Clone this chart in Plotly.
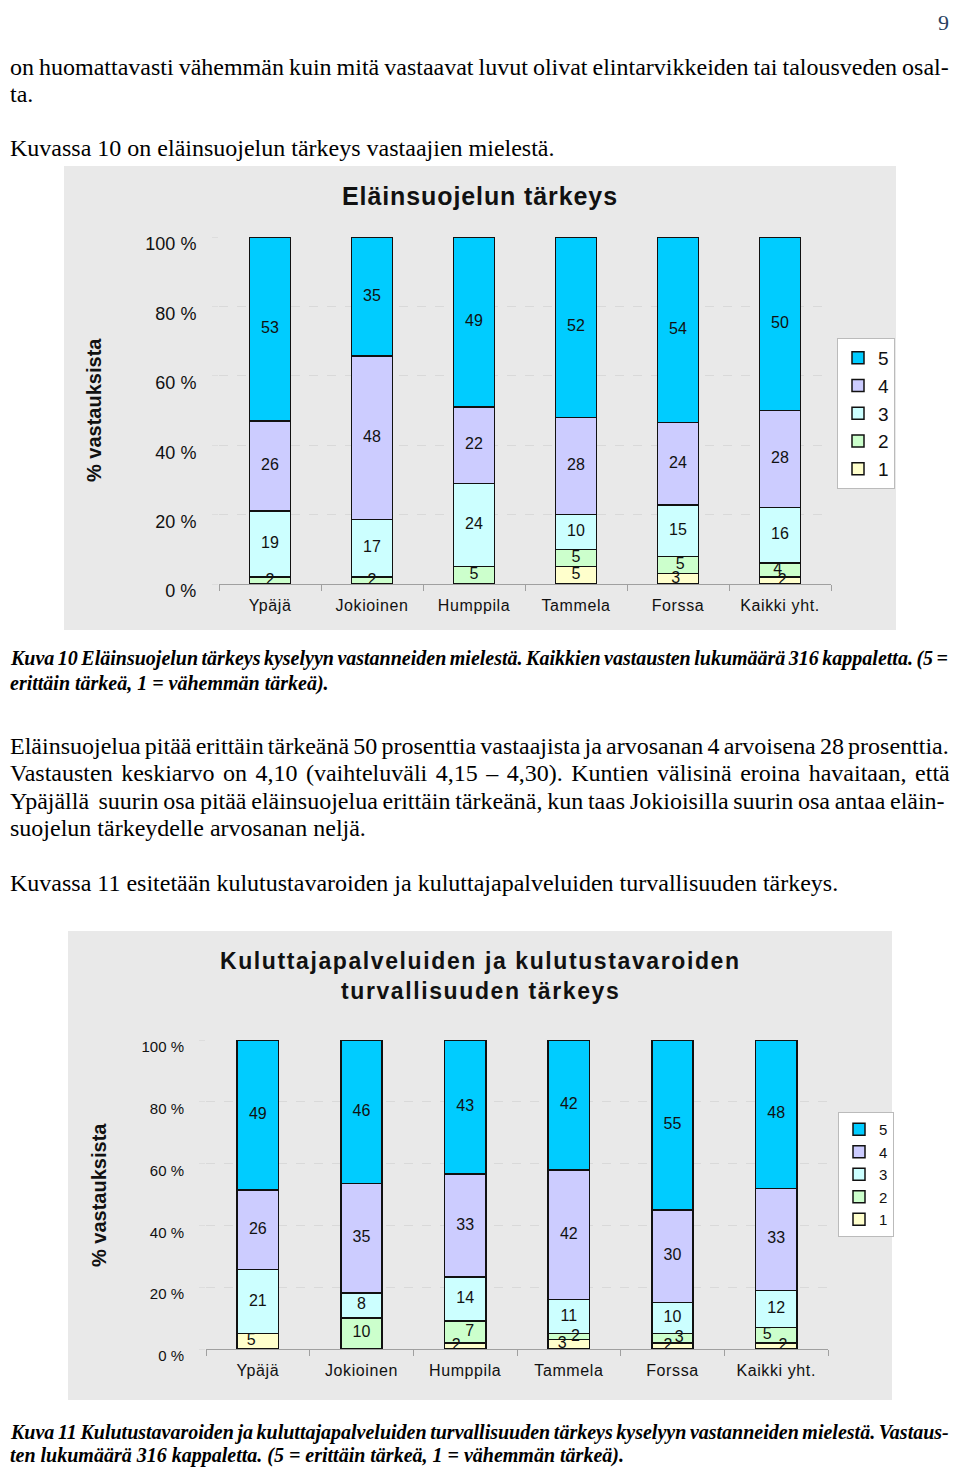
import plotly.graph_objects as go

W, H = 960, 1467

categories = ["Ypäjä", "Jokioinen", "Humppila", "Tammela", "Forssa", "Kaikki yht."]
grades = ["1", "2", "3", "4", "5"]

# Kuva 10: Eläinsuojelun tärkeys, % per grade (1 = vähemmän tärkeä ... 5 = erittäin tärkeä)
elain_1 = [0, 0, 0, 5, 3, 2]
elain_2 = [2, 2, 5, 5, 5, 4]
elain_3 = [19, 17, 24, 10, 15, 16]
elain_4 = [26, 48, 22, 28, 24, 28]
elain_5 = [53, 35, 49, 52, 54, 50]

# Kuva 11: Kuluttajapalveluiden ja kulutustavaroiden turvallisuuden tärkeys
kulu_1 = [5, 0, 2, 3, 2, 2]
kulu_2 = [0, 10, 7, 2, 3, 5]
kulu_3 = [21, 8, 14, 11, 10, 12]
kulu_4 = [26, 35, 33, 42, 30, 33]
kulu_5 = [49, 46, 43, 42, 55, 48]

y_ticks = [0, 20, 40, 60, 80, 100]
y_ticktext = [f"{v} %" for v in y_ticks]

grade_colors = ["#FFFFCC", "#CCFFCC", "#CCFFFF", "#CCCCFF", "#00CCFF"]

# small labels that sit side by side in the original (nbsp padding, - = left)
shift_elain = {("Forssa", "1"): -1, ("Forssa", "2"): 1,
               ("Kaikki yht.", "2"): -1, ("Kaikki yht.", "1"): 1}
shift_kulu = {("Ypäjä", "1"): -3, ("Humppila", "1"): -4, ("Humppila", "2"): 2,
              ("Tammela", "1"): -3, ("Tammela", "2"): 3, ("Forssa", "1"): -2,
              ("Forssa", "2"): 3, ("Kaikki yht.", "2"): -4, ("Kaikki yht.", "1"): 3}

SANS = "Liberation Sans, Arial, sans-serif"
SERIF = "Liberation Serif, Times New Roman, serif"
NB = "\u00a0"
OFF = 8  # page body margin


def px(x):
    return (x - OFF) / W


def py(y):
    return 1 - (y - OFF) / H


def label(v, n):
    s = str(v)
    return s + NB * (-n) if n < 0 else NB * n + s


def spaced(s, ls=0, ws=0):
    return f'<span style="letter-spacing:{ls}px; word-spacing:{ws}px">{s}</span>'


fig = go.Figure()

for series, shifts, xa, ya, leg in [
    ([elain_1, elain_2, elain_3, elain_4, elain_5], shift_elain, "x", "y", "legend"),
    ([kulu_1, kulu_2, kulu_3, kulu_4, kulu_5], shift_kulu, "x2", "y2", "legend2"),
]:
    for g, vals, col in zip(grades, series, grade_colors):
        fig.add_trace(go.Bar(
            x=categories, y=vals, name=g,
            xaxis=xa, yaxis=ya, legend=leg,
            width=0.4,
            marker=dict(color=col, line=dict(color="#111111", width=1.5)),
            hoverinfo="skip",
        ))
    # value labels on top of every segment (percent stack, like barnorm)
    totals = [sum(s[i] for s in series) for i in range(len(categories))]
    below = [0] * len(categories)
    for g, vals in zip(grades, series):
        mids, labs = [], []
        for i, (c, v) in enumerate(zip(categories, vals)):
            mids.append((below[i] + v / 2) / totals[i] * 100 if v else None)
            labs.append(label(v, shifts.get((c, g), 0)) if v else "")
            below[i] += v
        fig.add_trace(go.Scatter(
            x=categories, y=mids, text=labs, mode="text",
            xaxis=xa, yaxis=ya, showlegend=False, cliponaxis=False,
            textfont=dict(family=SANS, size=16, color="#111111"),
            hoverinfo="skip",
        ))

# gray chart panels
shapes = [
    dict(type="rect", xref="paper", yref="paper", layer="below",
         x0=px(64), x1=px(896), y0=py(630), y1=py(166),
         fillcolor="#E9E9E9", line=dict(width=0)),
    dict(type="rect", xref="paper", yref="paper", layer="below",
         x0=px(68), x1=px(892), y0=py(1400), y1=py(931),
         fillcolor="#E9E9E9", line=dict(width=0)),
]

ann = []


def text(x, y, s, size, family=SERIF, anchor="left", angle=0, color="#000000", ws=None):
    if ws is not None:
        s = spaced(s, 0, ws)
    ann.append(dict(x=max(px(x), 0), y=py(y), xref="paper", yref="paper", text=s,
                    showarrow=False, xanchor=anchor, yanchor="middle",
                    textangle=angle, font=dict(family=family, size=size, color=color)))


BODY = 24
CAP = 20
ann.append(dict(x=px(951), y=1, xref="paper", yref="paper", text="9", showarrow=False,
                xanchor="right", yanchor="top", font=dict(family=SERIF, size=22)))
text(2, 67, "on huomattavasti vähemmän kuin mitä vastaavat luvut olivat elintarvikkeiden tai talousveden osal-", BODY, ws=-1.0)
text(2, 94, "ta.", BODY)
text(2, 148, "Kuvassa 10 on eläinsuojelun tärkeys vastaajien mielestä.", BODY)

text(2, 659, "<b><i>Kuva 10 Eläinsuojelun tärkeys kyselyyn vastanneiden mielestä. Kaikkien vastausten lukumäärä 316 kappaletta. (5 =</i></b>", CAP, ws=-1.5)
text(2, 683, "<b><i>erittäin tärkeä, 1 = vähemmän tärkeä).</i></b>", CAP)

text(2, 746, "Eläinsuojelua pitää erittäin tärkeänä 50 prosenttia vastaajista ja arvosanan 4 arvoisena 28 prosenttia.", BODY, ws=-1.8)
text(2, 773, "Vastausten keskiarvo on 4,10 (vaihteluväli 4,15 – 4,30). Kuntien välisinä eroina havaitaan, että", BODY, ws=2.5)
text(2, 801, "Ypäjällä" + NB + " suurin osa pitää eläinsuojelua erittäin tärkeänä, kun taas Jokioisilla suurin osa antaa eläin-", BODY, ws=-1.3)
text(2, 828, "suojelun tärkeydelle arvosanan neljä.", BODY)
text(2, 883, "Kuvassa 11 esitetään kulutustavaroiden ja kuluttajapalveluiden turvallisuuden tärkeys.", BODY)

text(2, 1432, "<b><i>Kuva 11 Kulutustavaroiden ja kuluttajapalveluiden turvallisuuden tärkeys kyselyyn vastanneiden mielestä. Vastaus-</i></b>", CAP, ws=-1.4)
text(2, 1455, "<b><i>ten lukumäärä 316 kappaletta. (5 = erittäin tärkeä, 1 = vähemmän tärkeä).</i></b>", CAP)

# chart titles and y titles
text(480, 196, spaced("<b>Eläinsuojelun tärkeys</b>", 0.9), 25, family=SANS, anchor="center", color="#111111")
text(480, 961, spaced("<b>Kuluttajapalveluiden ja kulutustavaroiden</b>", 1.6), 23, family=SANS, anchor="center", color="#111111")
text(480, 991, spaced("<b>turvallisuuden tärkeys</b>", 1.6), 23, family=SANS, anchor="center", color="#111111")
text(94, 410, "<b>% vastauksista</b>", 20, family=SANS, anchor="center", angle=-90, color="#111111")
text(99, 1195, "<b>% vastauksista</b>", 20, family=SANS, anchor="center", angle=-90, color="#111111")


def xaxis(domain, size, anchor):
    return dict(domain=domain, anchor=anchor, showline=True, linecolor="#A0A0A0",
                ticks="outside", tickson="boundaries", ticklen=6, tickcolor="#A0A0A0",
                tickmode="array", tickvals=categories,
                ticktext=[spaced(c, 0.6) for c in categories],
                ticklabelstandoff=7,
                tickfont=dict(family=SANS, size=size, color="#111111"),
                showgrid=False, fixedrange=True, automargin=False)


def yaxis(domain, size, anchor):
    return dict(domain=domain, anchor=anchor, range=[0, 100],
                tickmode="array", tickvals=y_ticks, ticktext=y_ticktext,
                tickfont=dict(family=SANS, size=size, color="#111111"),
                ticks="outside", ticklen=6, tickcolor="#DDDDDD",
                showgrid=True, gridcolor="#D9D9D9", griddash="dash", gridwidth=1,
                zeroline=False, showline=False, ticklabelstandoff=12,
                ticklabelshift=7, fixedrange=True, automargin=False)


fig.update_layout(
    width=W, height=H,
    margin=dict(l=0, r=0, t=0, b=0, autoexpand=False),
    paper_bgcolor="white", plot_bgcolor="white",
    barmode="stack", barnorm="percent",
    showlegend=True,
    xaxis=xaxis([px(219), px(831)], 16, "y"),
    yaxis=yaxis([py(584), py(237)], 18, "x"),
    xaxis2=xaxis([px(206), px(828)], 16, "y2"),
    yaxis2=yaxis([py(1349), py(1040)], 15, "x2"),
    legend=dict(x=px(837), y=py(338), xanchor="left", yanchor="top",
                traceorder="reversed", bgcolor="white", bordercolor="#BBBBBB",
                borderwidth=1, font=dict(family=SANS, size=19, color="#111111")),
    legend2=dict(x=px(838), y=py(1112), xanchor="left", yanchor="top",
                 traceorder="reversed", bgcolor="white", bordercolor="#BBBBBB",
                 borderwidth=1, font=dict(family=SANS, size=15, color="#111111")),
    shapes=shapes,
    annotations=ann,
)

fig.write_html("out.html")
